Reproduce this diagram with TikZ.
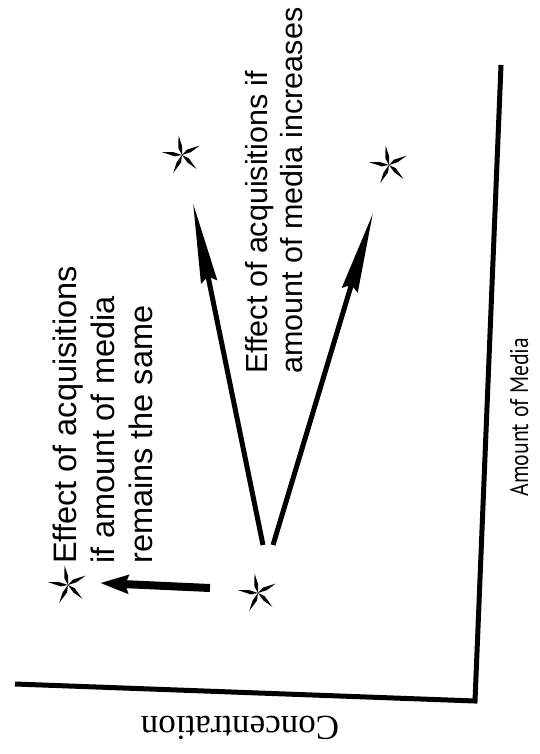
\documentclass[tikz,border=0pt]{standalone}
\usepackage{fontspec}
\setmainfont{Liberation Sans}
\newfontfamily\concfont{Liberation Serif}
\newfontfamily\axisfont[FakeStretch=0.85]{PT Sans}
\usetikzlibrary{arrows.meta}
\begin{document}
\begin{tikzpicture}[x=1pt,y=-1pt,
  axisline/.style={line width=5pt, line join=miter},
  bigarrow/.style={line width=5pt, -{Stealth[length=80pt,width=16pt,inset=5pt]}},
  shortarrow/.style={line width=8pt, -{Stealth[length=28pt,width=18pt,inset=3pt]}},
  label/.style={rotate=90, anchor=north west, inner sep=0pt, align=left, font=\fontsize{30.5}{35}\selectfont},
  pics/astar/.style={code={
    \foreach \a in {100,28,-44,-116,172}{
      \fill[rotate=\a] (0,0) -- (7,-2.4) -- (20,0) -- (9,1.6) -- cycle;}
  }}
]
\useasboundingbox (0,0) rectangle (539,754);
% axes
\coordinate (ytop) at (501,65);
\coordinate (corner) at (475,701);
\coordinate (xleft) at (15,684);
\draw[axisline] (xleft) -- (corner) -- (ytop);
\node[rotate=90, anchor=base, inner sep=0pt, font=\axisfont\fontsize{25.5}{30}\selectfont] (ylab) at (528,417) {Amount of Media};
\node[rotate=180, anchor=base, inner sep=0pt, font=\concfont\fontsize{35}{40}\selectfont] (xlab) at (240,716) {Concentration};
% stars
\pic at (182,155) {astar};
\pic at (389,165) {astar};
\pic at (258,593) {astar};
\pic at (68,585) {astar};
% arrows
\coordinate (s1) at (263,545);
\coordinate (e1) at (193,203);
\coordinate (s2) at (273,545);
\coordinate (e2) at (373,213);
\coordinate (s3) at (210,588);
\coordinate (e3) at (100,583);
\draw[bigarrow] (s1) -- (e1);
\draw[bigarrow] (s2) -- (e2);
\draw[shortarrow] (s3) -- (e3);
% labels
\node[label, font=\fontsize{32.5}{38}\selectfont] (t1) at (53,564) {Effect of acquisitions\\if amount of media\\remains the same};
\node[label] (t2) at (245,374) {Effect of acquisitions if\\amount of media increases};
\end{tikzpicture}
\end{document}
